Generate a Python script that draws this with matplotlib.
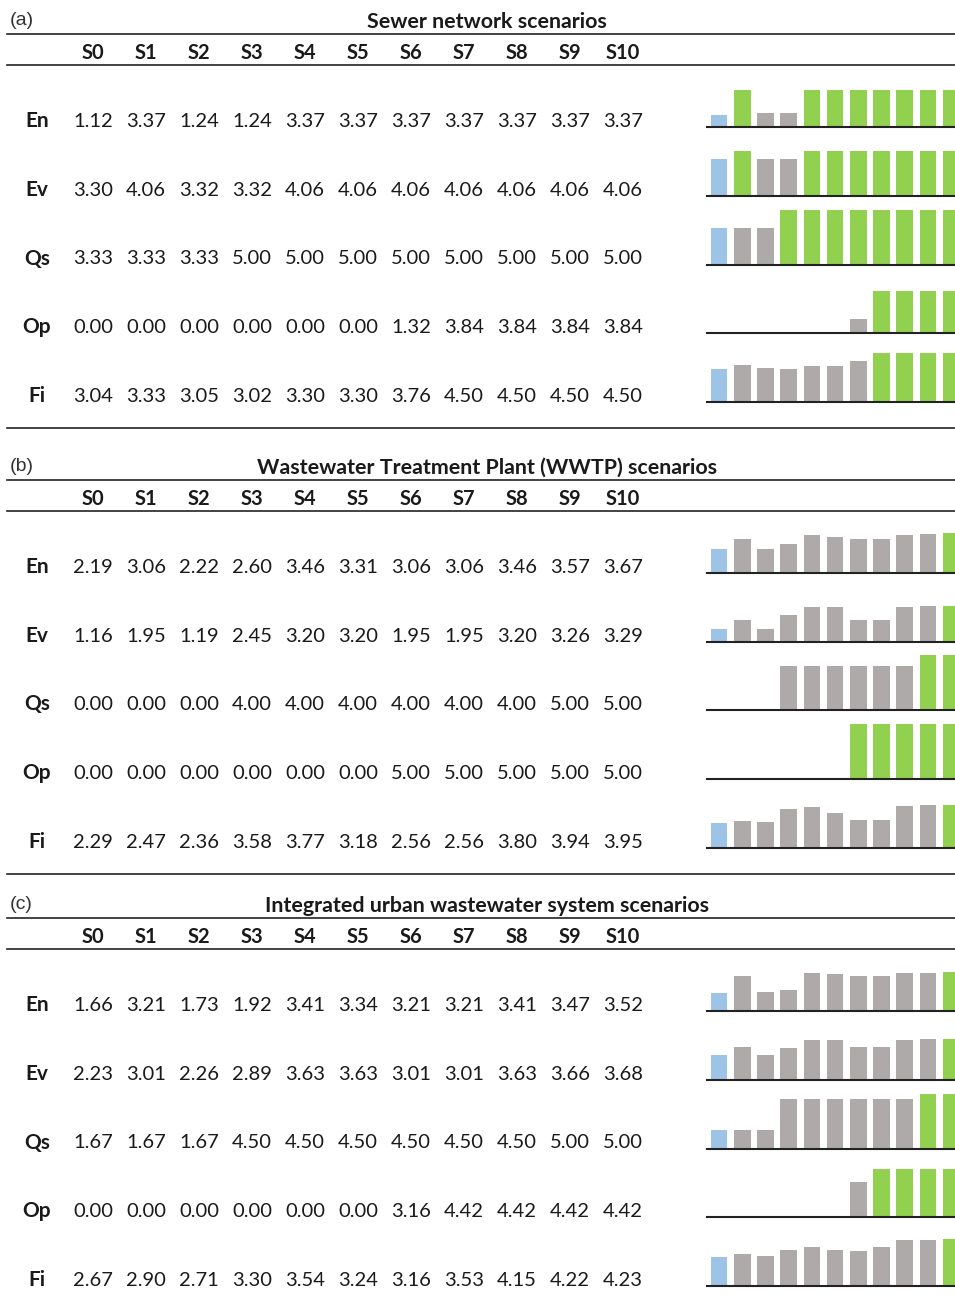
import matplotlib.pyplot as plt
from matplotlib.lines import Line2D

# figure size in pixels
W, H = 955, 1309

scenarios = ["S0", "S1", "S2", "S3", "S4", "S5", "S6", "S7", "S8", "S9", "S10"]
metrics = ["En", "Ev", "Qs", "Op", "Fi"]
panel_labels = ["(a)", "(b)", "(c)"]
titles = ["Sewer network scenarios",
          "Wastewater Treatment Plant (WWTP) scenarios",
          "Integrated urban wastewater system scenarios"]

# (a) sewer network
sewer_en = [1.12, 3.37, 1.24, 1.24, 3.37, 3.37, 3.37, 3.37, 3.37, 3.37, 3.37]
sewer_ev = [3.30, 4.06, 3.32, 3.32, 4.06, 4.06, 4.06, 4.06, 4.06, 4.06, 4.06]
sewer_qs = [3.33, 3.33, 3.33, 5.00, 5.00, 5.00, 5.00, 5.00, 5.00, 5.00, 5.00]
sewer_op = [0.00, 0.00, 0.00, 0.00, 0.00, 0.00, 1.32, 3.84, 3.84, 3.84, 3.84]
sewer_fi = [3.04, 3.33, 3.05, 3.02, 3.30, 3.30, 3.76, 4.50, 4.50, 4.50, 4.50]

# (b) WWTP
wwtp_en = [2.19, 3.06, 2.22, 2.60, 3.46, 3.31, 3.06, 3.06, 3.46, 3.57, 3.67]
wwtp_ev = [1.16, 1.95, 1.19, 2.45, 3.20, 3.20, 1.95, 1.95, 3.20, 3.26, 3.29]
wwtp_qs = [0.00, 0.00, 0.00, 4.00, 4.00, 4.00, 4.00, 4.00, 4.00, 5.00, 5.00]
wwtp_op = [0.00, 0.00, 0.00, 0.00, 0.00, 0.00, 5.00, 5.00, 5.00, 5.00, 5.00]
wwtp_fi = [2.29, 2.47, 2.36, 3.58, 3.77, 3.18, 2.56, 2.56, 3.80, 3.94, 3.95]

# (c) integrated system
iuws_en = [1.66, 3.21, 1.73, 1.92, 3.41, 3.34, 3.21, 3.21, 3.41, 3.47, 3.52]
iuws_ev = [2.23, 3.01, 2.26, 2.89, 3.63, 3.63, 3.01, 3.01, 3.63, 3.66, 3.68]
iuws_qs = [1.67, 1.67, 1.67, 4.50, 4.50, 4.50, 4.50, 4.50, 4.50, 5.00, 5.00]
iuws_op = [0.00, 0.00, 0.00, 0.00, 0.00, 0.00, 3.16, 4.42, 4.42, 4.42, 4.42]
iuws_fi = [2.67, 2.90, 2.71, 3.30, 3.54, 3.24, 3.16, 3.53, 4.15, 4.22, 4.23]

sections = [
    [sewer_en, sewer_ev, sewer_qs, sewer_op, sewer_fi],
    [wwtp_en, wwtp_ev, wwtp_qs, wwtp_op, wwtp_fi],
    [iuws_en, iuws_ev, iuws_qs, iuws_op, iuws_fi],
]

BLUE, GREY, GREEN = "#9DC3E6", "#AEAAAA", "#92D050"
TXT = "#1a1a1a"
FONT = "Lato"


def fx(x):
    return x / W


def fy(y):
    return 1 - y / H


def hline(fig, y):
    fig.add_artist(Line2D([fx(7), fx(955)], [fy(y), fy(y)],
                          transform=fig.transFigure, color="#222222", lw=1.2))


fig = plt.figure(figsize=(W / 100, H / 100), dpi=100)

col_x = [93 + 53 * j for j in range(len(scenarios))]
offsets = [0, 446, 884]

for k, rows in enumerate(sections):
    off = offsets[k]
    fig.text(fx(10), fy(25 + off), panel_labels[k], fontsize=14,
             family="Liberation Sans", color="#333333", va="baseline")
    fig.text(fx(487), fy(28 + off), titles[k], fontsize=15.4, fontweight="bold",
             family=FONT, color=TXT, ha="center", va="baseline")
    hline(fig, 34 + off)
    hline(fig, 65 + off)
    if 428 + off < H:
        hline(fig, 428 + off)

    for j, s in enumerate(scenarios):
        fig.text(fx(col_x[j]), fy(59 + off), s, fontsize=14.5, fontweight="bold",
                 family=FONT, color=TXT, ha="center", va="baseline")

    for i, vals in enumerate(rows):
        base = 127 + 68.75 * i + off
        fig.text(fx(37), fy(base), metrics[i], fontsize=15, fontweight="bold",
                 family=FONT, color=TXT, ha="center", va="baseline")
        for j, v in enumerate(vals):
            fig.text(fx(col_x[j]), fy(base), f"{v:.2f}", fontsize=14.5,
                     family=FONT, color=TXT, ha="center", va="baseline")

        # sparkline: baseline blue, row best green, rest grey
        top = max(vals)
        colors = [BLUE if j == 0 else (GREEN if v == top else GREY)
                  for j, v in enumerate(vals)]
        ax = fig.add_axes([fx(707), fy(base), fx(955) - fx(707), 55 / H])
        ax.bar(range(len(vals)), vals, width=0.72, color=colors)
        ax.set_xlim(-0.52, 10.17)
        ax.set_ylim(0, 5)
        ax.axhline(0, color="#222222", lw=1.5, clip_on=False)
        ax.axis("off")

fig.savefig("out.png", dpi=100)
